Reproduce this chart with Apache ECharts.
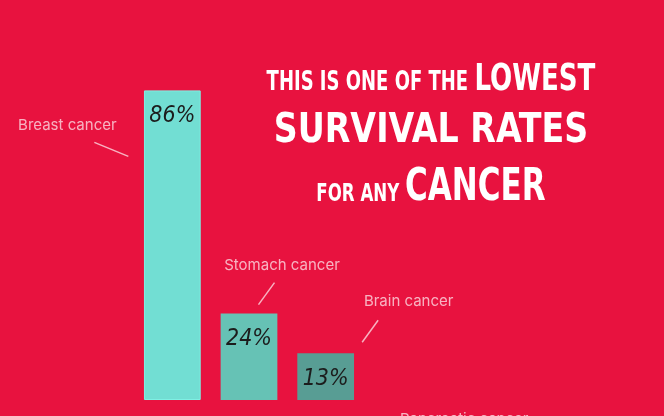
<!DOCTYPE html>
<html>
<head>
<meta charset="utf-8">
<script src="https://cdn.jsdelivr.net/npm/echarts@6/dist/echarts.min.js"></script>
<style>
  html, body { margin: 0; padding: 0; background: #e8123f; }
  #chart { width: 664px; height: 416px; }
</style>
</head>
<body>
<div id="chart"></div>
<script>
  // 数据
  var categories = ['Breast cancer', 'Stomach cancer', 'Brain cancer']
  var rates = [86, 24, 13]
  var barColors = ['#72ded3', '#66c2b5', '#589d94']

  var chart = echarts.init(document.getElementById('chart'))

  chart.setOption({
    backgroundColor: '#e8123f',
    animation: false,
    grid: { left: 134, right: 300, top: 40, bottom: 16 },
    xAxis: {
      type: 'category',
      data: categories,
      show: false
    },
    yAxis: {
      type: 'value',
      min: 0,
      max: 100,
      show: false
    },
    series: [{
      type: 'bar',
      barWidth: '74%',
      data: rates.map(function (v, i) {
        return { value: v, itemStyle: { color: barColors[i], borderColor: '#7ff0e4', borderWidth: i === 0 ? 1 : 0 } }
      }),
      label: {
        show: true,
        position: 'insideTop',
        distance: 14,
        formatter: '{c}%',
        fontFamily: 'DejaVu Sans Condensed',
        fontStyle: 'italic',
        fontSize: 23,
        color: '#1c1c1c'
      }
    }]
  })

  // 类别名称和引线，位置从柱顶换算
  var offsets = [
    { text: [-105, 35], line: [-78, 52, -44, 66] },
    { text: [33, -48], line: [9.5, -9, 25.5, -31] },
    { text: [83, -52], line: [36.5, -11, 52.5, -33] }
  ]
  var pink = 'rgba(255,255,255,0.68)'
  var graphics = []
  categories.forEach(function (name, i) {
    var p = chart.convertToPixel({ seriesIndex: 0 }, [i, rates[i]])
    var o = offsets[i]
    graphics.push({
      type: 'text',
      x: p[0] + o.text[0],
      y: p[1] + o.text[1],
      style: {
        text: name,
        fill: pink,
        font: '15px Inter',
        textAlign: 'center',
        textVerticalAlign: 'middle'
      }
    })
    graphics.push({
      type: 'line',
      shape: { x1: p[0] + o.line[0], y1: p[1] + o.line[1], x2: p[0] + o.line[2], y2: p[1] + o.line[3] },
      style: { stroke: pink, lineWidth: 1.5 }
    })
  })

  // 被裁掉的第四个标签
  graphics.push({
    type: 'text',
    x: 400,
    y: 412,
    style: { text: 'Pancreatic cancer', fill: pink, font: '15px Inter', textVerticalAlign: 'top' }
  })

  // 标题
  var titleFont = 'DejaVu Sans Condensed'
  var titleLines = [
    { y: 99, sy: 1.3, rich: '{s1|THIS IS ONE OF THE }{b1|LOWEST}' },
    { y: 152, sy: 1.12, rich: '{b2|SURVIVAL RATES}' },
    { y: 211, sy: 1.3, rich: '{s3|FOR ANY }{b3|CANCER}' }
  ]
  function tf(size, pb) {
    return { fontFamily: titleFont, fontWeight: 'bold', fontSize: size, fill: '#fff', verticalAlign: 'bottom', padding: [0, 0, pb || 0, 0] }
  }
  titleLines.forEach(function (l) {
    graphics.push({
      type: 'text',
      x: 431,
      y: l.y,
      scaleY: l.sy,
      style: {
        text: l.rich,
        textAlign: 'center',
        textVerticalAlign: 'bottom',
        rich: { s1: tf(20, 2), b1: tf(29), b2: tf(37), s3: tf(18.5, 3), b3: tf(34.5) }
      }
    })
  })

  chart.setOption({ graphic: graphics })
</script>
</body>
</html>
